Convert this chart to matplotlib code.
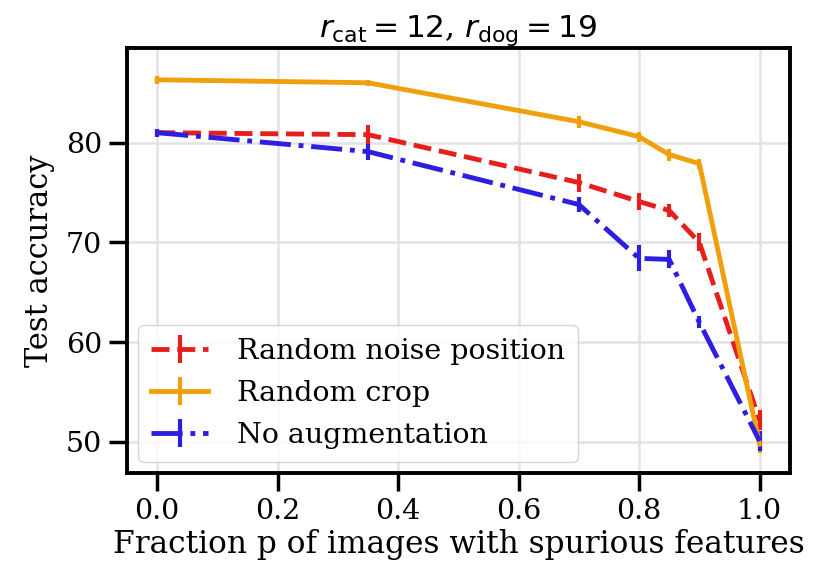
import numpy as np
import matplotlib
matplotlib.use("Agg")
import matplotlib.pyplot as plt

# data
p = [0.0, 0.35, 0.7, 0.8, 0.85, 0.9, 1.0]
acc_noise = [81.0, 80.8, 76.0, 74.1, 73.2, 70.0, 52.2]
err_noise = [0.4, 1.0, 0.9, 0.9, 0.7, 0.9, 1.0]
acc_crop = [86.3, 86.0, 82.1, 80.6, 78.8, 77.9, 49.8]
err_crop = [0.4, 0.3, 0.6, 0.5, 0.6, 0.5, 0.9]
acc_none = [81.0, 79.1, 73.8, 68.4, 68.3, 62.0, 50.1]
err_none = [0.4, 0.8, 0.8, 1.3, 0.9, 0.6, 1.0]

plt.rcParams['font.family'] = ['DejaVu Serif']
plt.rcParams['mathtext.fontset'] = 'dejavusans'

fig, ax = plt.subplots(figsize=(8.2, 5.63), dpi=100)
fig.subplots_adjust(left=0.155, right=0.963, top=0.915, bottom=0.16)

ax.errorbar(p, acc_noise, yerr=err_noise, color='#e5201c', ls='--', lw=3.5,
            elinewidth=3, label='Random noise position')
ax.errorbar(p, acc_crop, yerr=err_crop, color='#f0a00c', ls='-', lw=3.5,
            elinewidth=3, label='Random crop')
ax.errorbar(p, acc_none, yerr=err_none, color='#2d1ee0', ls='-.', lw=3.5,
            elinewidth=3, label='No augmentation')

ax.set_ylim(46.9, 89.5)
ax.set_xticks([0.0, 0.2, 0.4, 0.6, 0.8, 1.0])
ax.set_yticks([50, 60, 70, 80])
ax.grid(True, color='#e3e3e3', lw=1.8)
ax.set_axisbelow(True)
for s in ax.spines.values():
    s.set_linewidth(2.8)
ax.tick_params(labelsize=20.5, width=2.5, length=13, pad=5)

ax.set_xlabel('Fraction p of images with spurious features', fontsize=22.5, labelpad=3)
ax.set_ylabel('Test accuracy', fontsize=22, labelpad=8)
ax.set_title(r'$r_{\rm cat} = 12$, $r_{\rm dog} = 19$', fontsize=22.5, pad=5)

leg = ax.legend(loc='lower left', fontsize=20.5, handlelength=2.0, borderaxespad=0.4,
                labelspacing=0.52, handletextpad=1.0, borderpad=0.45)
leg.get_frame().set_edgecolor('#cccccc')

plt.savefig('out.png', dpi=100)
